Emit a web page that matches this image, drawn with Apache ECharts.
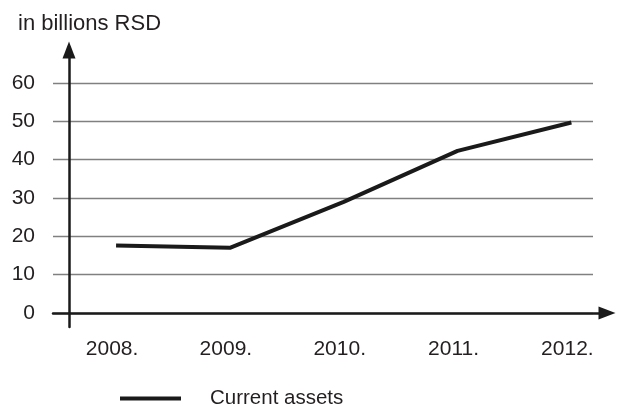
<!DOCTYPE html>
<html>
<head>
<meta charset="utf-8">
<script src="https://cdn.jsdelivr.net/npm/echarts@6/dist/echarts.min.js"></script>
<style>
  html, body { margin: 0; padding: 0; background: #ffffff; }
  #chart { width: 620px; height: 407px; }
</style>
</head>
<body>
<div id="chart"></div>
<script>
// Current assets by year, in billions of RSD
const years = ['2008.', '2009.', '2010.', '2011.', '2012.'];
const currentAssets = [17.6, 17.0, 29.0, 42.3, 49.7];
const yTicks = [0, 10, 20, 30, 40, 50, 60];
const seriesName = 'Current assets';
const unitTitle = 'in billions RSD';

const FONT = 'Liberation Sans';
const INK = '#1a1a1a';
const TEXT = '#231f20';

// Year positions on a numeric axis so the plot can extend past the outer categories
const yearIndex = years.map((_, i) => i);
const points = currentAssets.map((v, i) => [yearIndex[i], v]);

const chart = echarts.init(document.getElementById('chart'), null, { renderer: 'canvas' });

chart.setOption({
  animation: false,
  backgroundColor: '#ffffff',
  textStyle: { fontFamily: FONT },
  title: {
    text: unitTitle,
    left: 13,
    top: 8,
    textStyle: { fontFamily: FONT, fontSize: 22, fontWeight: 'normal', color: TEXT }
  },
  legend: {
    data: [{ name: seriesName, icon: 'rect' }],
    left: 115,
    top: 383,
    itemWidth: 61,
    itemHeight: 4,
    textStyle: { fontFamily: FONT, fontSize: 20.5, color: TEXT, padding: [0, 0, 0, 24] }
  },
  grid: [
    // plotting area with the horizontal guide lines
    { left: 53, right: 27, top: 83, bottom: 94, outerBoundsMode: 'none' },
    // frame carrying the two arrowed axes
    { left: 53, right: 13, top: 50, bottom: 80, outerBoundsMode: 'none' }
  ],
  xAxis: [
    {
      gridIndex: 0,
      type: 'value',
      min: -0.554,
      max: 4.19,
      axisLine: { show: false },
      axisTick: { show: false },
      splitLine: { show: false },
      axisLabel: {
        customValues: yearIndex,
        formatter: v => years[Math.round(v)],
        margin: 26,
        padding: [0, 8, 0, 0],
        fontFamily: FONT,
        fontSize: 21,
        color: TEXT
      }
    },
    {
      gridIndex: 1,
      type: 'value',
      min: 0,
      max: 1,
      offset: -14,
      axisLine: {
        onZero: false,
        symbol: ['none', 'triangle'],
        symbolSize: [13, 17],
        lineStyle: { color: INK, width: 2.5 }
      },
      axisTick: { show: false },
      axisLabel: { show: false },
      splitLine: { show: false }
    }
  ],
  yAxis: [
    {
      gridIndex: 0,
      type: 'value',
      min: yTicks[0],
      max: yTicks[yTicks.length - 1],
      interval: 10,
      axisLine: { show: false },
      axisTick: { show: false },
      splitLine: { show: true, lineStyle: { color: '#808080', width: 1.3 } },
      axisLabel: {
        margin: 18,
        fontFamily: FONT,
        fontSize: 21,
        color: TEXT
      }
    },
    {
      gridIndex: 1,
      type: 'value',
      min: 0,
      max: 1,
      offset: -16,
      axisLine: {
        onZero: false,
        symbol: ['none', 'triangle'],
        symbolSize: [13, 17],
        lineStyle: { color: INK, width: 2.5 }
      },
      axisTick: { show: false },
      axisLabel: { show: false },
      splitLine: { show: false }
    }
  ],
  series: [
    {
      name: seriesName,
      type: 'line',
      xAxisIndex: 0,
      yAxisIndex: 0,
      data: points,
      symbol: 'none',
      color: INK,
      lineStyle: { color: INK, width: 4 },
      z: 3
    }
  ]
});
</script>
</body>
</html>
